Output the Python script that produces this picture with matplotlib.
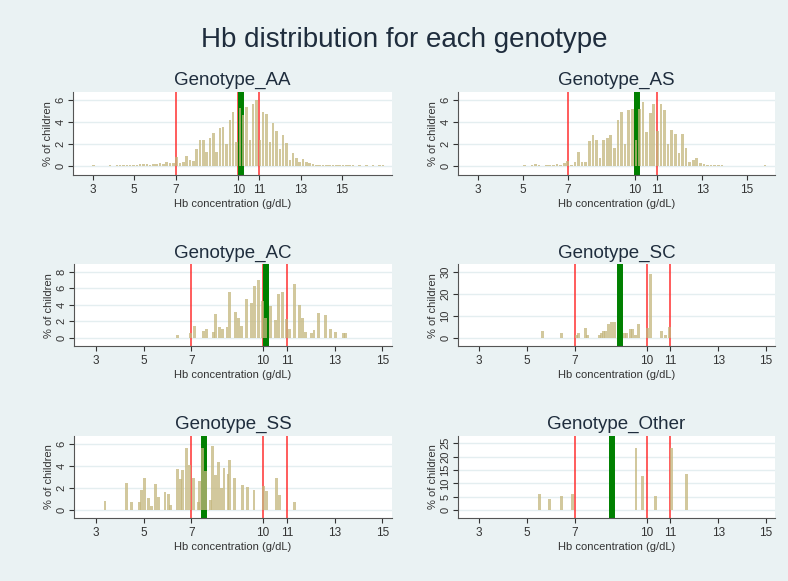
import matplotlib.pyplot as plt
import numpy as np

plt.rcParams['font.family'] = ['Liberation Sans', 'DejaVu Sans']

# ---- data (% of children per Hb value) ----
aa_start, aa_step = 3.04, 0.16
aa_pct = [0.05, 0, 0, 0, 0, 0.05, 0, 0.05, 0.05, 0.08, 0.05, 0.08, 0.1, 0.08, 0.15,
          0.2, 0.15, 0.1, 0.2, 0.15, 0.3, 0.2, 0.4, 0.25, 0.3,
          0.8, 0.25, 0.35, 0.9, 0.55, 0.45, 1.5, 2.4, 2.35, 1.3, 2.55, 3.0, 1.3, 3.45,
          3.5, 2.0, 4.2, 4.9, 2.2, 5.3, 4.6, 5.35, 2.4, 5.6, 5.95, 2.4, 4.9, 4.75, 2.2,
          3.9, 3.15, 1.5, 2.85, 2.1, 0.55, 1.15, 0.7, 0.4, 0.6, 0.35, 0.25, 0.15,
          0.1, 0.1, 0.08, 0.08, 0.05, 0.05, 0.08, 0.05, 0.05, 0.05, 0.05, 0.05, 0,
          0.05, 0, 0.05, 0, 0.05, 0, 0.05, 0.05]

as_start, as_step = 5.08, 0.16
as_pct = [0.1, 0, 0.05, 0.15, 0.1, 0, 0.05, 0.1, 0.05, 0.15, 0.1, 0.3, 0.45,
          0.1, 0.4, 1.25, 0.4, 0.35, 2.3, 2.8, 2.4, 0.75, 2.4, 2.55, 2.8, 1.6, 4.2,
          4.9, 2.0, 5.05, 5.15, 2.4, 5.2, 5.85,
          3.1, 4.8, 5.6, 3.2, 5.65, 5.1, 2.0, 3.3, 2.9, 1.2, 2.9, 1.6, 0.35, 0.55,
          0.7, 0.25, 0.15, 0.1, 0.1, 0.05, 0.05, 0.05,
          0, 0, 0, 0, 0, 0, 0, 0, 0, 0, 0, 0.08]

ac_hb = [6.42, 6.96, 7.11, 7.49, 7.63, 7.91, 8.02, 8.16, 8.30, 8.49, 8.61, 8.83, 8.97,
         9.11, 9.30, 9.51, 9.65, 9.82, 9.97, 10.11, 10.31, 10.53, 10.63, 10.81, 10.98,
         11.12, 11.33, 11.51, 11.65, 11.79, 12.03, 12.13, 12.33, 12.62, 12.83, 13.03,
         13.35, 13.46]
ac_pct = [0.3, 0.6, 1.4, 0.85, 1.05, 0.75, 2.85, 1.35, 1.05, 1.25, 5.55, 3.15, 2.4,
          1.45, 4.65, 4.15, 6.3, 6.95, 4.4, 2.4, 3.8, 2.15, 5.35, 5.6, 2.3,
          1.1, 6.5, 4.0, 2.4, 0.7, 0.6, 0.9, 3.0, 2.7, 1.05, 0.75, 0.55, 0.55]

sc_hb = [5.65, 6.46, 7.09, 7.17, 7.44, 7.55, 8.05, 8.13, 8.22, 8.30, 8.40, 8.52, 8.65,
         9.07, 9.17, 9.32, 9.43, 9.55, 9.67, 10.04, 10.15, 10.64, 10.80, 10.95]
sc_pct = [3.0, 2.3, 1.2, 2.0, 4.3, 1.0, 1.2, 2.0, 2.8, 3.1, 6.1, 7.3, 6.9,
          2.3, 2.0, 3.8, 3.8, 1.2, 6.1, 4.3, 28.8, 3.1, 1.2, 5.0]

ss_hb = [3.38, 4.28, 4.49, 4.81, 4.91, 5.05, 5.19, 5.33, 5.51, 5.61, 5.89, 6.03, 6.13,
         6.40, 6.54, 6.63, 6.79, 6.93, 7.07, 7.28, 7.35, 7.46, 7.60, 7.78, 7.88, 7.99,
         8.12, 8.24, 8.36, 8.53, 8.60, 8.79, 9.12, 9.33, 9.62, 10.0, 10.14, 10.56,
         10.67, 11.33]
ss_pct = [0.8, 2.45, 0.7, 0.7, 1.8, 2.9, 1.05, 0.4, 2.4, 1.2, 1.65, 1.45, 0.5,
          3.75, 2.8, 3.65, 5.6, 4.1, 2.9, 0.75, 2.6, 5.6, 3.5, 0.95, 5.8, 3.2,
          4.4, 2.0, 3.8, 3.3, 4.5, 2.9, 2.25, 2.05, 1.8, 2.2, 1.7, 2.9,
          1.35, 0.75]

oth_hb = [5.52, 5.93, 6.43, 6.92, 9.56, 9.85, 10.36, 11.06, 11.66]
oth_pct = [6.0, 4.25, 5.4, 6.0, 23.3, 12.6, 5.4, 23.3, 13.6]

# mean Hb per genotype (green) and cut-offs (red)
genotypes = ['Genotype_AA', 'Genotype_AS', 'Genotype_AC', 'Genotype_SC', 'Genotype_SS', 'Genotype_Other']
mean_hb = [10.13, 10.08, 10.12, 8.9, 7.54, 8.56]
cutoffs = [7, 10, 11]
xticks = [3, 5, 7, 10, 11, 13, 15]

aa_hb = aa_start + aa_step * np.arange(len(aa_pct))
as_hb = as_start + as_step * np.arange(len(as_pct))

panels = [
    (aa_hb, aa_pct, [0, 2, 4, 6], (-0.82, 6.75), (2.05, 17.4)),
    (as_hb, as_pct, [0, 2, 4, 6], (-0.82, 6.75), (2.1, 16.25)),
    (ac_hb, ac_pct, [0, 2, 4, 6, 8], (-1.0, 8.9), (2.08, 15.4)),
    (sc_hb, sc_pct, [0, 10, 20, 30], (-3.8, 33.4), (2.12, 15.37)),
    (ss_hb, ss_pct, [0, 2, 4, 6], (-0.75, 6.75), (2.08, 15.4)),
    (oth_hb, oth_pct, [0, 5, 10, 15, 20, 25], (-3.1, 27.85), (2.12, 15.37)),
]

# axes boxes in figure fractions [left, bottom, width, height]
boxes = [
    [0.0926, 0.6988, 0.4049, 0.1434],
    [0.5812, 0.6988, 0.4023, 0.1434],
    [0.0939, 0.4045, 0.4036, 0.1406],
    [0.5812, 0.4045, 0.4023, 0.1406],
    [0.0939, 0.1079, 0.4036, 0.1422],
    [0.5812, 0.1079, 0.4023, 0.1422],
]

bg = '#eaf2f3'
txt = '#1f2d3d'
fig = plt.figure(figsize=(7.88, 5.81), dpi=100, facecolor=bg)
fig.text(0.513, 0.932, 'Hb distribution for each genotype', ha='center', va='center',
         fontsize=20, color=txt)

for i, (hb, pct, yt, ylim, xlim) in enumerate(panels):
    ax = fig.add_axes(boxes[i])
    ax.set_facecolor('white')
    for yv in yt:
        ax.axhline(yv, color='#e4eef0', lw=1, zorder=0)
    for c in cutoffs:
        ax.axvline(c, color='#ff3030', lw=1.1, zorder=1)
    ax.axvline(mean_hb[i], color='#008000', lw=4.3, zorder=1)
    ax.bar(hb, pct, width=0.12, color='#c4b67c', alpha=0.75, zorder=2, linewidth=0)
    ax.set_xlim(*xlim)
    ax.set_ylim(*ylim)
    ax.set_xticks(xticks)
    ax.set_yticks(yt)
    ax.set_yticklabels([str(v) for v in yt], rotation=90, va='center')
    ax.tick_params(labelsize=8, colors='#333333', length=3.5, width=0.8, pad=2)
    ax.tick_params(axis='x', labelsize=8.5, pad=3)
    for s in ['top', 'right']:
        ax.spines[s].set_visible(False)
    for s in ['left', 'bottom']:
        ax.spines[s].set_color('#555555')
        ax.spines[s].set_linewidth(0.8)
    ax.set_xlabel('Hb concentration (g/dL)', fontsize=8, color='#333333', labelpad=2)
    ax.set_ylabel('% of children', fontsize=8, color='#333333', labelpad=2)
    ax.set_title(genotypes[i], fontsize=13.5, color=txt, pad=5)

fig.savefig('out.png', dpi=100, facecolor=bg)
